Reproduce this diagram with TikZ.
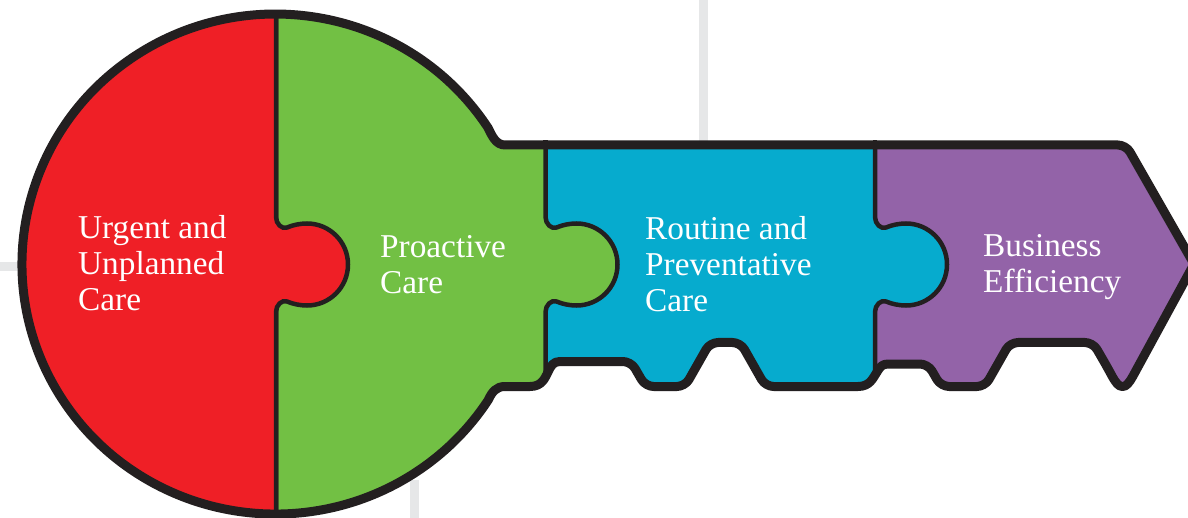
\documentclass[tikz,border=0pt]{standalone}
\usepackage{fontspec}
\setmainfont{Liberation Serif}
\definecolor{keyred}{HTML}{EF1F26}
\definecolor{keygreen}{HTML}{72C044}
\definecolor{keyblue}{HTML}{06ABCE}
\definecolor{keypurple}{HTML}{9363A8}
\definecolor{keydark}{HTML}{231F20}
\definecolor{keygrey}{HTML}{E6E7E8}
\newcommand{\keytab}[1]{-- (#1,217) .. controls (#1,224) and (#1+6,229.5) .. (#1+11,227.5)
  .. controls (#1+17,225) and (#1+24,223.5) .. (#1+31,223.5)
  arc[start angle=-90,end angle=90,radius=41]
  .. controls (#1+24,305.5) and (#1+17,304) .. (#1+11,301.5)
  .. controls (#1+6,299.5) and (#1,305) .. (#1,312)}
\newcommand{\keyoutline}{(488.1,127.9)
  arc[start angle=-33,end angle=-327,x radius=253.5,y radius=250]
  .. controls (492,392) and (496,386.5) .. (505,386.5)
  -- (530,386.5) .. controls (542,386.5) and (545,378) .. (548,372)
  .. controls (551,366) and (553,361.5) .. (560,361.5)
  [rounded corners=8pt] -- (631,361.5) -- (645.5,386.5) -- (685,386.5) -- (710,342.5)
  -- (740.5,342.5) -- (765.5,386.5) [sharp corners] -- (858,386.5)
  .. controls (870,386.5) and (873,378) .. (877,372)
  .. controls (880,367) and (882,364) .. (888,364)
  [rounded corners=8pt] -- (928,364) -- (941,386.5) -- (985,386.5) -- (1010,342.5)
  -- (1093,342.5) -- (1108,368.5) [rounded corners=0pt] -- (1112,376) .. controls (1116,383) and (1118.5,386.5) .. (1122.5,386.5)
  .. controls (1126.5,386.5) and (1129,383) .. (1133,376) -- (1194,264) [rounded corners=8pt] -- (1126,145)
  [sharp corners] -- (505,145) .. controls (496,145) and (492,136) .. (488.1,127.9) -- cycle}
\tikzset{
  piece/.style={draw=keydark,line width=4.5pt},
  outer/.style={draw=keydark,line width=9pt,line join=round},
  backline/.style={draw=keygrey,line width=9pt},
  keylabel/.style={text=white,align=left,anchor=base west,inner sep=0pt,font=\fontsize{33.3}{36}\selectfont}
}
\begin{document}
\begin{tikzpicture}[x=1pt,y=-1pt]
\useasboundingbox (0,0) rectangle (1188,518);
\fill[white] (0,0) rectangle (1188,518);
\coordinate (g1a) at (703,0); \coordinate (g1b) at (703,145);
\coordinate (g2a) at (0,267); \coordinate (g2b) at (25,267);
\coordinate (g3a) at (414,480); \coordinate (g3b) at (414,518);
\draw[backline] (g1a) -- (g1b);
\draw[backline] (g2a) -- (g2b);
\draw[backline] (g3a) -- (g3b);
\begin{scope}
  \clip \keyoutline;
  \fill[keypurple] (875,0) rectangle (1200,518);
  \path[piece,fill=keyblue] (545.5,-10) -- (875,-10) \keytab{875} -- (875,530) -- (545.5,530) -- cycle;
  \path[piece,fill=keygreen] (276,-10) -- (545.5,-10) \keytab{545.5} -- (545.5,530) -- (276,530) -- cycle;
  \path[piece,fill=keyred] (276,-10) \keytab{276} -- (276,530) -- (-10,530) -- (-10,-10) -- cycle;
\end{scope}
\path[outer] \keyoutline;
\draw[piece] (545.5,140.5) -- (545.5,146);
\draw[piece] (875,140.5) -- (875,146);
\node[keylabel] (urgent) at (78,311) {Urgent and\\Unplanned\\Care};
\node[keylabel] (proactive) at (380,294) {Proactive\\Care};
\node[keylabel] (routine) at (645,312) {Routine and\\Preventative\\Care};
\node[keylabel] (business) at (983,293) {Business\\Efficiency};
\end{tikzpicture}
\end{document}
